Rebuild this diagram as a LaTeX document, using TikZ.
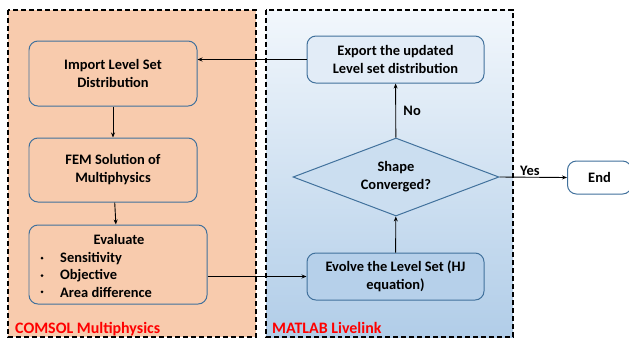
\documentclass[tikz,border=0pt]{standalone}
\usepackage{fontspec}
\setmainfont{Carlito}
\usetikzlibrary{arrows.meta,shapes.geometric}
\definecolor{peach}{HTML}{F8CBAD}
\definecolor{edgeblue}{HTML}{41719C}
\definecolor{ltop}{HTML}{F2F7FC}
\definecolor{lbot}{HTML}{B1CDE8}
\begin{document}
\begin{tikzpicture}[x=1bp,y=-1bp,
  panel/.style={draw=black,line width=1.1pt,dash pattern=on 5pt off 3pt},
  proc/.style={draw=edgeblue,line width=1pt,rounded corners=9pt,align=center,font=\bfseries\fontsize{14.5}{18}\selectfont,inner sep=2pt},
  dec/.style={draw=edgeblue,line width=1pt,diamond,aspect=2.64,align=center,font=\bfseries\fontsize{14.5}{18}\selectfont,inner sep=0pt},
  conn/.style={-{Stealth[length=5pt,width=4pt]},line width=0.9pt},
  lab/.style={font=\bfseries\fontsize{14.5}{18}\selectfont},
  paneltitle/.style={font=\bfseries\fontsize{16}{18}\selectfont,text=red,anchor=base west,inner sep=0pt}]
\useasboundingbox (0,0) rectangle (629,338);
\fill[white] (0,0) rectangle (629,338);
% panels
\fill[peach] (8,10) rectangle (256,337);
\shade[top color=ltop,bottom color=lbot] (266,10) rectangle (513,337);
\draw[panel] (8,10) rectangle (256,337);
\draw[panel] (266,10) rectangle (513,337);
% nodes
\node[proc,fill=peach,minimum width=168bp,minimum height=65bp] (imp) at (113,73.5) {Import Level Set\\Distribution};
\node[proc,fill=peach,minimum width=168bp,minimum height=64bp] (fem) at (113,170) {FEM Solution of\\Multiphysics};
\node[proc,fill=peach,minimum width=178bp,minimum height=79bp] (eva) at (118,264.5) {};
\node[lab,anchor=center] (evt) at (119,239) {Evaluate};
\node[lab,anchor=base west,inner sep=0pt] (e1) at (60,262) {Sensitivity};
\node[lab,anchor=base west,inner sep=0pt] (e2) at (60,279.5) {Objective};
\node[lab,anchor=base west,inner sep=0pt] (e3) at (60,297) {Area difference};
\foreach \i in {1,2,3} \fill (42,0 |- e\i.center) circle (1.5bp);
\node[proc,fill=ltop!75!lbot,minimum width=177bp,minimum height=47bp] (exp) at (395.5,59.5) {Export the updated\\Level set distribution};
\node[dec,fill=ltop!40!lbot,minimum width=206bp,minimum height=78bp] (dia) at (396,177) {Shape\\Converged?};
\node[proc,fill=lbot!92!ltop,minimum width=177bp,minimum height=47bp] (evo) at (395.5,276.5) {Evolve the Level Set (HJ\\equation)};
\node[proc,fill=white,minimum width=64bp,minimum height=33bp,anchor=west] (end) at (567,177.5) {End};
% connectors
\draw[conn] (exp.west) -- (exp.west -| imp.east);
\draw[conn] (imp) -- (fem);
\draw[conn] (fem) -- (eva);
\draw[conn] (eva.east |- evo.west) -- (evo.west);
\draw[conn] (evo) -- (dia);
\draw[conn] (dia) -- node[lab,right=4bp,pos=0.5] (no) {No} (exp);
\draw[conn] (dia.east) -- node[lab,above=-2bp,pos=0.45] (yes) {Yes} (end.west);
% titles
\node[paneltitle] (t1) at (15,333) {COMSOL Multiphysics};
\node[paneltitle] (t2) at (272,333) {MATLAB Livelink};
\end{tikzpicture}
\end{document}
